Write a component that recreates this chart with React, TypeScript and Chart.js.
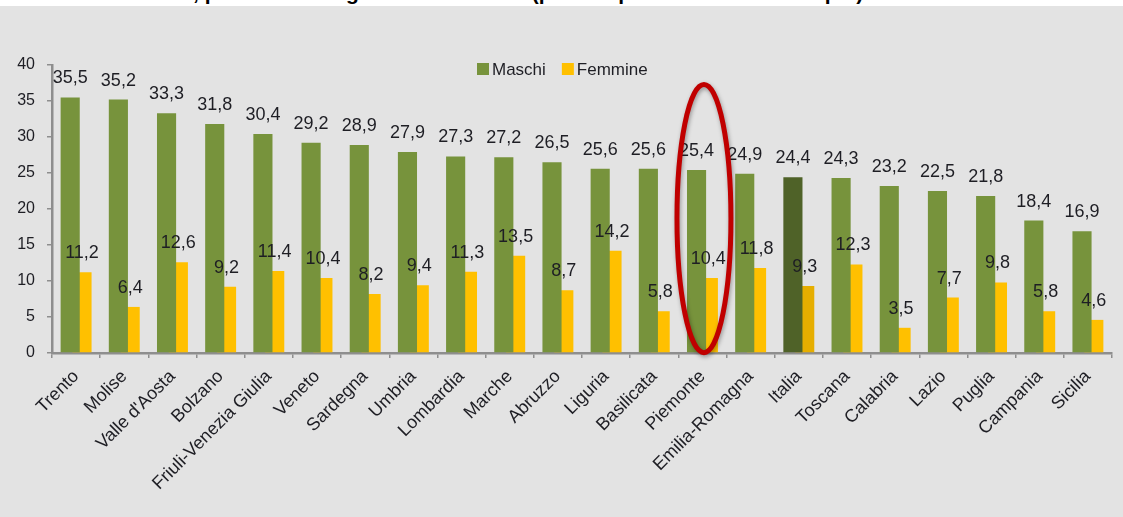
import React, { useEffect, useRef } from "react";
import { Chart, registerables } from "chart.js";

Chart.register(...registerables);

const categories = [
  "Trento", "Molise", "Valle d'Aosta", "Bolzano", "Friuli-Venezia Giulia", "Veneto",
  "Sardegna", "Umbria", "Lombardia", "Marche", "Abruzzo", "Liguria", "Basilicata",
  "Piemonte", "Emilia-Romagna", "Italia", "Toscana", "Calabria", "Lazio", "Puglia",
  "Campania", "Sicilia",
];
const maschi = [35.5, 35.2, 33.3, 31.8, 30.4, 29.2, 28.9, 27.9, 27.3, 27.2, 26.5, 25.6, 25.6, 25.4, 24.9, 24.4, 24.3, 23.2, 22.5, 21.8, 18.4, 16.9];
const femmine = [11.2, 6.4, 12.6, 9.2, 11.4, 10.4, 8.2, 9.4, 11.3, 13.5, 8.7, 14.2, 5.8, 10.4, 11.8, 9.3, 12.3, 3.5, 7.7, 9.8, 5.8, 4.6];
const seriesNames = ["Maschi", "Femmine"];
const highlighted = "Italia";
const circled = "Piemonte";
const circleRange = [0.05, 37.3];
const yMin = 0;
const yMax = 40;
const yStep = 5;
const title = "Consumo a rischio, per sesso e regione - Anno 2010 (per 100 persone di 11 anni e più)";

const FONT = "'Liberation Sans', Arial, sans-serif";
const GREEN = "#77933C";
const GREEN_DARK = "#4F6228";
const YELLOW = "#FFC000";
const YELLOW_DARK = "#E6AE00";
const TEXT = "#1e1e24";
const AXIS = "#8e8e8e";
const BG = "#e3e3e3";

const fmt = (v: number) => String(v).replace(".", ",");

const valueLabels = {
  id: "valueLabels",
  afterDatasetsDraw(chart: any) {
    const ctx = chart.ctx;
    ctx.save();
    ctx.font = `18px ${FONT}`;
    ctx.fillStyle = TEXT;
    ctx.textAlign = "center";
    ctx.textBaseline = "alphabetic";
    chart.data.datasets.forEach((ds: any, di: number) => {
      const meta = chart.getDatasetMeta(di);
      meta.data.forEach((bar: any, i: number) => {
        ctx.fillText(fmt(ds.data[i]), bar.x, bar.y - 14);
      });
    });
    ctx.restore();
  },
};

const customLegend = {
  id: "customLegend",
  afterDraw(chart: any) {
    const ctx = chart.ctx;
    const area = chart.chartArea;
    ctx.save();
    ctx.font = `17px ${FONT}`;
    ctx.textBaseline = "middle";
    ctx.textAlign = "left";
    const colors = [GREEN, YELLOW];
    let x = area.left + 425;
    const y = area.top + 4;
    seriesNames.forEach((name, i) => {
      ctx.fillStyle = colors[i];
      ctx.fillRect(x, y - 6, 12, 12);
      ctx.fillStyle = TEXT;
      ctx.fillText(name, x + 15, y + 1);
      x += 15 + ctx.measureText(name).width + 16;
    });
    ctx.restore();
  },
};

const ellipse = {
  id: "ellipse",
  afterDraw(chart: any) {
    const xs = chart.scales.x;
    const ys = chart.scales.y;
    const idx = categories.indexOf(circled);
    const cx = xs.getPixelForValue(idx) + 1.5;
    const cw = xs.getPixelForValue(1) - xs.getPixelForValue(0);
    const rx = cw * 0.56;
    const top = ys.getPixelForValue(circleRange[1]);
    const bottom = ys.getPixelForValue(circleRange[0]);
    const ctx = chart.ctx;
    ctx.save();
    ctx.shadowColor = "rgba(0,0,0,0.35)";
    ctx.shadowBlur = 4;
    ctx.shadowOffsetX = 1;
    ctx.shadowOffsetY = 2;
    ctx.strokeStyle = "#C00000";
    ctx.lineWidth = 5;
    ctx.beginPath();
    ctx.ellipse(cx, (top + bottom) / 2, rx, (bottom - top) / 2, 0, 0, Math.PI * 2);
    ctx.stroke();
    ctx.restore();
  },
};

export default function App() {
  const canvasRef = useRef<HTMLCanvasElement | null>(null);

  useEffect(() => {
    const html = document.documentElement;
    html.style.background = BG;
    html.style.overflow = "hidden";
    (html.style as any).scrollbarWidth = "none";
    document.body.style.margin = "0";
    document.body.style.background = BG;
    document.body.style.overflow = "hidden";
    if (!canvasRef.current) return;
    const hi = categories.indexOf(highlighted);
    const chart = new Chart(canvasRef.current, {
      type: "bar",
      data: {
        labels: categories,
        datasets: [
          {
            label: seriesNames[0],
            data: maschi,
            backgroundColor: categories.map((_, i) => (i === hi ? GREEN_DARK : GREEN)),
            barPercentage: 1.62,
            categoryPercentage: 0.49,
          },
          {
            label: seriesNames[1],
            data: femmine,
            backgroundColor: categories.map((_, i) => (i === hi ? YELLOW_DARK : YELLOW)),
            barPercentage: 1.62,
            categoryPercentage: 0.49,
          },
        ],
      },
      options: {
        animation: false,
        responsive: false,
        maintainAspectRatio: false,
        layout: { padding: { top: 65, left: 0, right: 11, bottom: 0 } },
        plugins: {
          legend: { display: false },
          tooltip: { enabled: false },
          title: { display: false },
        },
        scales: {
          x: {
            type: "category",
            offset: true,
            grid: {
              display: true,
              drawOnChartArea: false,
              drawTicks: true,
              tickLength: 5,
              color: AXIS,
              lineWidth: 1.5,
            },
            border: { display: true, color: AXIS, width: 2.5 },
            ticks: {
              autoSkip: false,
              minRotation: 45,
              maxRotation: 45,
              padding: 8,
              color: TEXT,
              font: { size: 18, family: FONT },
            },
            afterFit(scale: any) {
              scale.height = 164;
            },
          },
          y: {
            min: yMin,
            max: yMax,
            grid: {
              display: true,
              drawOnChartArea: false,
              drawTicks: true,
              tickLength: 5,
              color: AXIS,
              lineWidth: 1.5,
            },
            border: { display: true, color: AXIS, width: 2.5 },
            ticks: {
              stepSize: yStep,
              padding: 12,
              color: TEXT,
              font: { size: 16, family: FONT },
            },
            afterFit(scale: any) {
              scale.width = 52;
            },
          },
        },
      },
      plugins: [valueLabels, customLegend, ellipse],
    });
    return () => chart.destroy();
  }, []);

  return (
    <div style={{ position: "fixed", left: 0, top: 0, right: 0, bottom: 0, minWidth: 1123, background: BG, overflow: "hidden" }}>
      <canvas ref={canvasRef} width={1123} height={517} style={{ position: "absolute", left: 0, top: 0 }} />
      <div
        style={{
          position: "absolute",
          left: 0,
          top: 0,
          right: 0,
          height: 6,
          background: "#ffffff",
          overflow: "hidden",
        }}
      >
        <div
          style={{
            position: "absolute",
            left: 4,
            top: -18,
            whiteSpace: "nowrap",
            fontFamily: FONT,
            fontWeight: "bold",
            fontSize: 21,
            lineHeight: "21px",
            color: "#000",
          }}
        >
          {title}
        </div>
      </div>
    </div>
  );
}
